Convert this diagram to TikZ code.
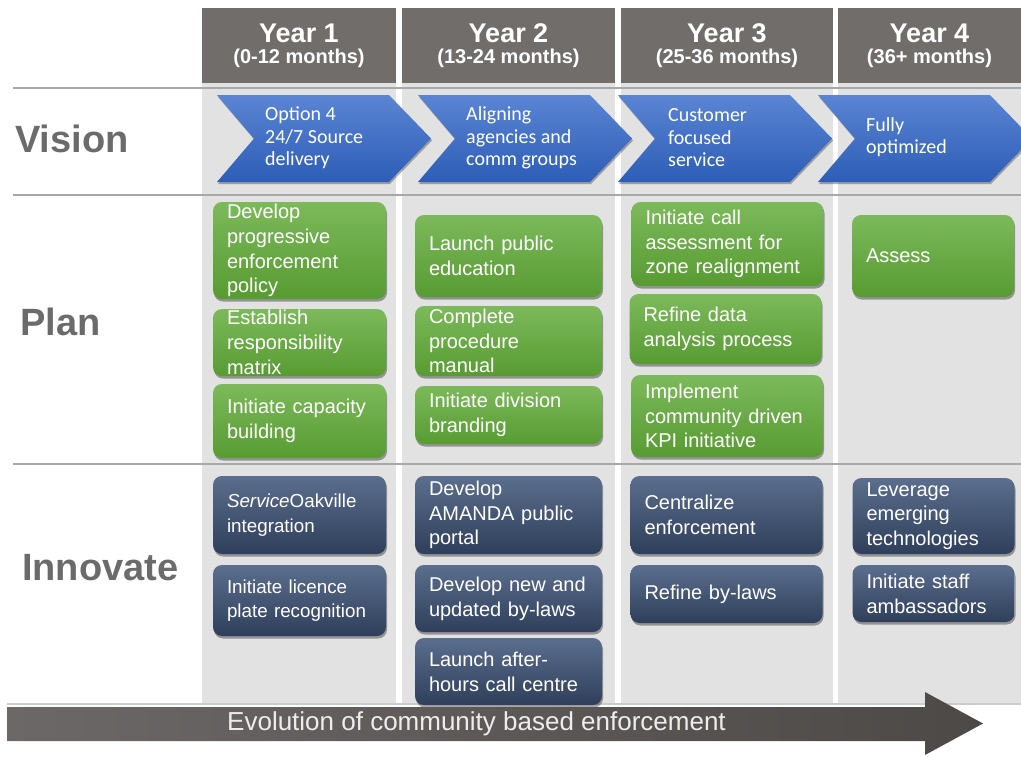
\documentclass[tikz,border=0pt]{standalone}
\usepackage{fontspec}
\setmainfont{Liberation Sans}
\newfontfamily\chevfont{Carlito}
\usepackage{tikz}
\usetikzlibrary{shadows}
\usetikzlibrary{positioning}

\definecolor{headgrey}{HTML}{716D6B}
\definecolor{colgrey}{HTML}{E2E2E2}
\definecolor{linegrey}{HTML}{A8A8A8}
\definecolor{labelgrey}{HTML}{6B6B6B}
\definecolor{chevtop}{HTML}{5B85D3}
\definecolor{chevbot}{HTML}{2D5DB7}
\definecolor{greentop}{HTML}{7CB95B}
\definecolor{greenbot}{HTML}{589B32}
\definecolor{navytop}{HTML}{5B6E8D}
\definecolor{navybot}{HTML}{2F3F5B}
\definecolor{evoleft}{HTML}{6C6867}
\definecolor{evoright}{HTML}{4D4947}

\tikzset{
  yearbox/.style={fill=headgrey, text=white, align=center, inner sep=0pt,
    minimum height=75pt, font=\fontsize{20}{21}\selectfont\bfseries},
  rowlabel/.style={text=labelgrey, anchor=base west, inner sep=0pt,
    font=\fontsize{38}{40}\selectfont\bfseries},
  rowline/.style={linegrey, line width=1.2pt},
  chevron/.style={top color=chevtop, bottom color=chevbot,
    drop shadow={shadow xshift=1pt, shadow yshift=-2pt, opacity=0.3, fill=black}},
  chevtext/.style={text=white, anchor=west, align=left, inner sep=0pt,
    font=\chevfont\fontsize{20}{22.5}\selectfont},
  taskbox/.style={rounded corners=9pt, text=white, align=left, inner xsep=14pt,
    inner ysep=0pt, font=\fontsize{20}{24.7}\selectfont,
    drop shadow={shadow xshift=1pt, shadow yshift=-2.5pt, opacity=0.35, fill=black}},
  planbox/.style={taskbox, top color=greentop, bottom color=greenbot},
  innobox/.style={taskbox, top color=navytop, bottom color=navybot},
  narrowtext/.style={font=\fontsize{18.8}{24.7}\selectfont},
  colone/.style={minimum width=173pt, text width=145pt},
  coltwo/.style={minimum width=187pt, text width=159pt},
  colthree/.style={minimum width=192pt, text width=164pt},
  colfour/.style={minimum width=162pt, text width=134pt},
  evoarrow/.style={left color=evoleft, right color=evoright},
  evotext/.style={text=white!93!black, inner sep=0pt, font=\fontsize{26}{28}\selectfont}
}

\begin{document}
\begin{tikzpicture}[x=1pt,y=-1pt]
\useasboundingbox (0,0) rectangle (1021,756);

\fill[colgrey] (202,8) rectangle (396,704);
\fill[colgrey] (402,8) rectangle (615,704);
\fill[colgrey] (621,8) rectangle (833,704);
\fill[colgrey] (838,8) rectangle (1021,704);

\draw[rowline] (13,88) -- (1021,88);
\draw[rowline] (13,195) -- (1021,195);
\draw[rowline] (13,464) -- (1021,464);
\draw[rowline, linegrey!60] (7,704) -- (1021,704);

\node[yearbox, minimum width=194pt] (h1) at (299,45.5) {{\fontsize{27}{21}\selectfont Year 1}\\(0-12 months)};
\node[yearbox, minimum width=213pt] (h2) at (508.5,45.5) {{\fontsize{27}{21}\selectfont Year 2}\\(13-24 months)};
\node[yearbox, minimum width=212pt] (h3) at (727,45.5) {{\fontsize{27}{21}\selectfont Year 3}\\(25-36 months)};
\node[yearbox, minimum width=183pt] (h4) at (929.5,45.5) {{\fontsize{27}{21}\selectfont Year 4}\\(36+ months)};

\node[rowlabel] (vision) at (15,152) {Vision};
\node[rowlabel] (plan) at (20,335) {Plan};
\node[rowlabel] (innovate) at (22,580) {Innovate};

\path[chevron] (217,95) -- ++(172,0) -- ++(42,43.5) -- ++(-42,43.5) -- ++(-172,0) -- ++(37,-43.5) -- cycle;
\path[chevron] (418,95) -- ++(172,0) -- ++(42,43.5) -- ++(-42,43.5) -- ++(-172,0) -- ++(37,-43.5) -- cycle;
\path[chevron] (618,95) -- ++(172,0) -- ++(42,43.5) -- ++(-42,43.5) -- ++(-172,0) -- ++(37,-43.5) -- cycle;
\path[chevron] (818,95) -- ++(172,0) -- ++(42,43.5) -- ++(-42,43.5) -- ++(-172,0) -- ++(37,-43.5) -- cycle;

\node[chevtext] (v1) at (265,138) {Option 4\\24/7 Source\\delivery};
\node[chevtext] (v2) at (466,138) {Aligning\\agencies and\\comm groups};
\node[chevtext] (v3) at (668,138) {Customer\\focused\\service};
\node[chevtext] (v4) at (866,137) {Fully\\optimized};

\node[planbox, colone, minimum height=97pt] (p11) at (299.5,250.5) {Develop\\progressive\\enforcement\\policy};
\node[planbox, colone, minimum height=67pt] (p12) at (299.5,342.5) {Establish\\responsibility\\matrix};
\node[planbox, colone, minimum height=74pt] (p13) at (299.5,421) {Initiate capacity\\building};
\node[planbox, coltwo, minimum height=82pt] (p21) at (508.5,256) {Launch public\\education};
\node[planbox, coltwo, minimum height=70pt] (p22) at (508.5,341) {Complete\\procedure\\manual};
\node[planbox, coltwo, minimum height=58pt] (p23) at (508.5,415) {Initiate division\\branding};
\node[planbox, colthree, minimum height=84pt] (p31) at (727.5,244) {Initiate call\\assessment for\\zone realignment};
\node[planbox, colthree, minimum height=70pt] (p32) at (725.5,329) {Refine data\\analysis process};
\node[planbox, colthree, minimum height=82pt] (p33) at (727,416) {Implement\\community driven\\KPI initiative};
\node[planbox, colfour, minimum height=82pt] (p41) at (933,256) {Assess};

\node[innobox, colone, narrowtext, minimum height=78pt] (i11) at (299.5,515) {\textit{Service}Oakville\\integration};
\node[innobox, colone, narrowtext, minimum height=71pt] (i12) at (299.5,600.5) {Initiate licence\\plate recognition};
\node[innobox, coltwo, minimum height=78pt] (i21) at (508.5,515) {Develop\\AMANDA public\\portal};
\node[innobox, coltwo, minimum height=67pt] (i22) at (508.5,598.5) {Develop new and\\updated by-laws};
\node[innobox, coltwo, minimum height=67pt] (i23) at (508.5,671.5) {Launch after-\\hours call centre};
\node[innobox, colthree, minimum height=78pt] (i31) at (726.5,515) {Centralize\\enforcement};
\node[innobox, colthree, minimum height=58pt] (i32) at (726.5,594) {Refine by-laws};
\node[innobox, colfour, minimum height=76pt] (i41) at (933.5,516) {Leverage\\emerging\\technologies};
\node[innobox, colfour, minimum height=57pt] (i42) at (933.5,593.5) {Initiate staff\\ambassadors};

\path[evoarrow] (7,707) -- (925,707) -- (925,692) -- (983,723.5) -- (925,755) -- (925,741) -- (7,741) -- cycle;
\node[evotext] (evo) at (476.5,724) {Evolution of community based enforcement};
\end{tikzpicture}
\end{document}
